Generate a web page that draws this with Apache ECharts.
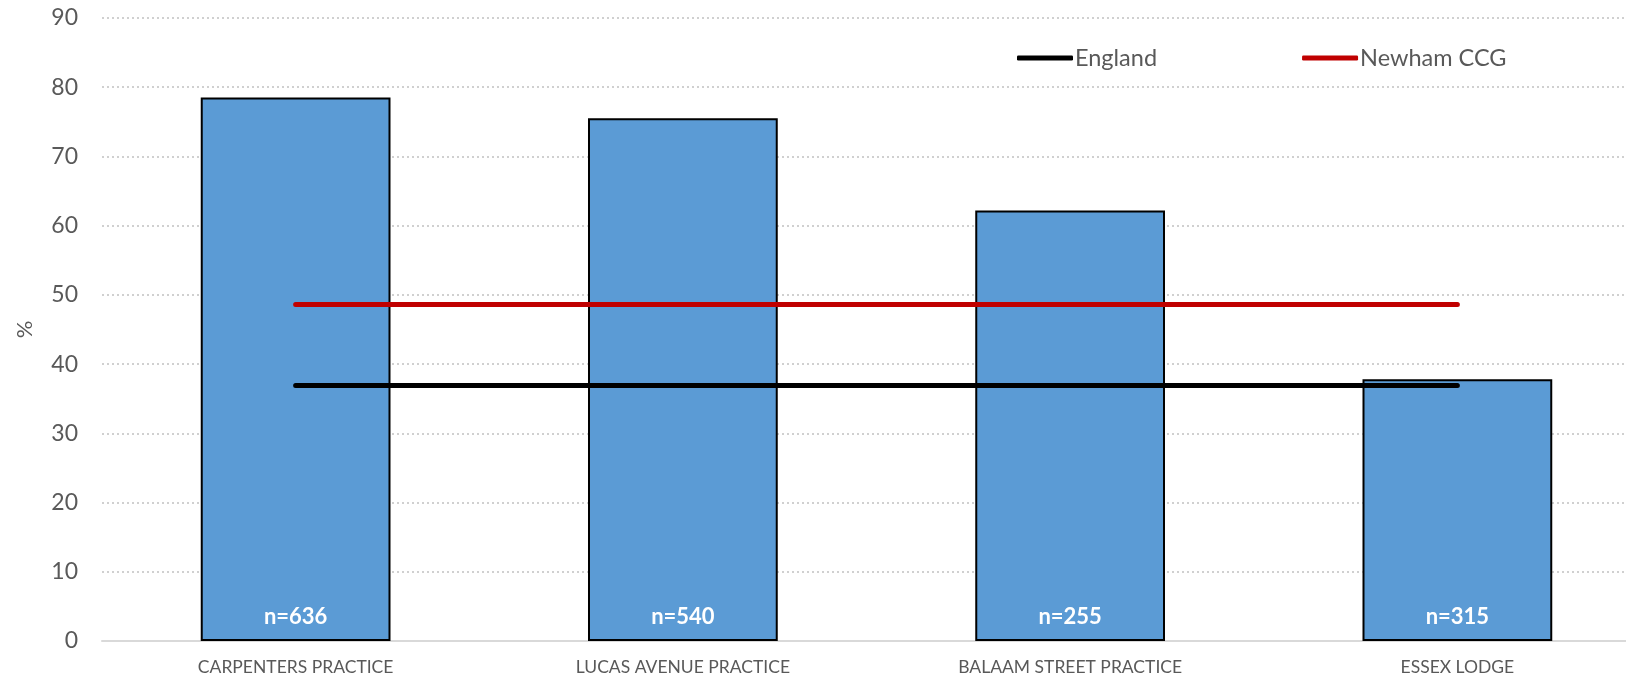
<!DOCTYPE html>
<html>
<head>
<meta charset="utf-8">
<script src="https://cdn.jsdelivr.net/npm/echarts@6/dist/echarts.min.js"></script>
<style>
html,body{margin:0;padding:0;background:#fff;overflow:hidden;}
#chart{width:1626px;height:678px;}
</style>
</head>
<body>
<div id="chart"></div>
<script>
const categories = ["CARPENTERS PRACTICE", "LUCAS AVENUE PRACTICE", "BALAAM STREET PRACTICE", "ESSEX LODGE"];
const practiceValues = [78.5, 75.5, 62.2, 37.8];
const sampleSizes = ["n=636", "n=540", "n=255", "n=315"];
const englandValues = [36.9, 36.9, 36.9, 36.9];
const newhamValues = [48.6, 48.6, 48.6, 48.6];
const yTicks = {min: 0, max: 90, interval: 10};

const chart = echarts.init(document.getElementById('chart'));
const font = 'Lato, "Open Sans", sans-serif';
chart.setOption({
  animation: false,
  backgroundColor: '#ffffff',
  grid: {left: 102, width: 1549, top: 18, bottom: 37, containLabel: false, outerBoundsMode: 'none'},
  legend: {
    data: [
      {name: 'England', icon: 'roundRect'},
      {name: 'Newham CCG', icon: 'roundRect'}
    ],
    left: 1017, top: 46, padding: 0,
    itemWidth: 56, itemHeight: 5, itemGap: 145,
    textStyle: {color: '#595959', fontSize: 23.5, fontFamily: font, padding: [0, 0, 0, -3]}
  },
  xAxis: {
    type: 'category',
    data: categories,
    axisLine: {show: true, lineStyle: {color: '#d9d9d9', width: 2}},
    axisTick: {show: false},
    axisLabel: {color: '#595959', fontSize: 17.5, fontFamily: font, margin: 17}
  },
  yAxis: {
    type: 'value',
    min: yTicks.min, max: yTicks.max, interval: yTicks.interval,
    name: '%',
    nameLocation: 'middle',
    nameGap: 66,
    nameRotate: 90,
    nameTextStyle: {color: '#595959', fontSize: 22, fontFamily: font},
    axisLine: {show: false},
    axisTick: {show: false},
    axisLabel: {color: '#595959', fontSize: 23, fontFamily: font, margin: 24},
    splitLine: {lineStyle: {color: '#d0d0d0', type: [2, 3], width: 2}}
  },
  series: [
    {
      name: 'Practice',
      type: 'bar',
      data: practiceValues,
      barWidth: '49%',
      itemStyle: {color: '#5B9BD5', borderColor: '#000000', borderWidth: 2},
      label: {
        show: true, position: 'insideBottom', distance: 13,
        formatter: p => sampleSizes[p.dataIndex],
        color: '#ffffff', fontWeight: 'bold', fontSize: 22, fontFamily: font
      },
      z: 2
    },
    {
      name: 'England',
      type: 'line',
      data: englandValues,
      symbol: 'none',
      itemStyle: {color: '#000000'},
      lineStyle: {color: '#000000', width: 5, cap: 'round'},
      z: 3
    },
    {
      name: 'Newham CCG',
      type: 'line',
      data: newhamValues,
      symbol: 'none',
      itemStyle: {color: '#C00000'},
      lineStyle: {color: '#C00000', width: 5, cap: 'round'},
      z: 3
    }
  ]
});
</script>
</body>
</html>
